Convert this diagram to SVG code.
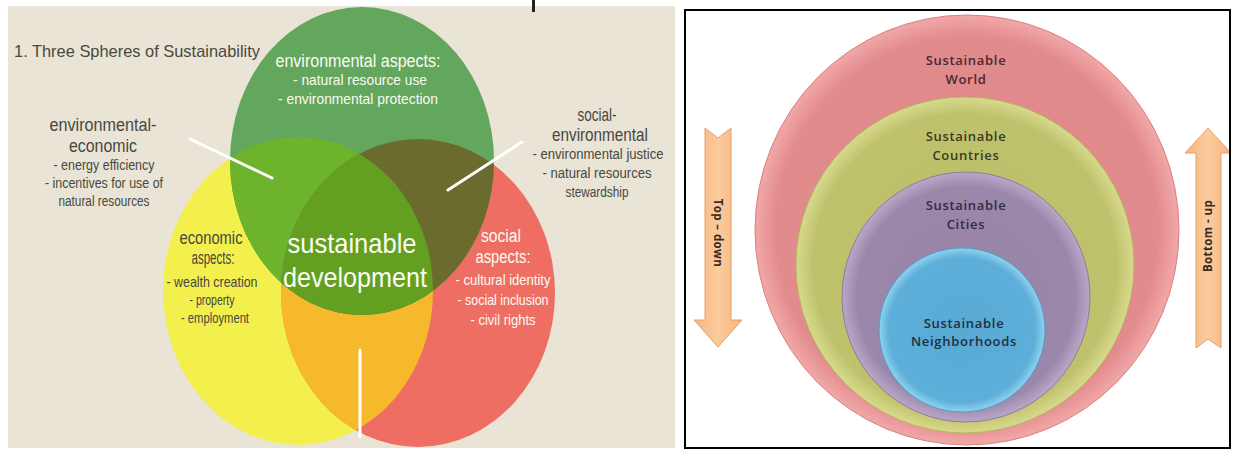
<svg xmlns="http://www.w3.org/2000/svg" width="1236" height="451" viewBox="0 0 1236 451">
  <style>
    .dark { fill: #48483f; font-family: "Liberation Sans", "Open Sans", sans-serif; }
    .light { fill: #fbfbf2; font-family: "Liberation Sans", "Open Sans", sans-serif; }
    .lvl { font-family: "Open Sans", "Liberation Sans", sans-serif; font-weight: 600; font-size: 13px; letter-spacing: 0.7px; text-anchor: middle; }
    .arrowTxt { font-family: "Open Sans", "Liberation Sans", sans-serif; font-weight: 700; font-size: 11.5px; fill: #3a2a1c; text-anchor: middle; letter-spacing: 0.4px; }
    .ptr { stroke: #ffffff; stroke-width: 3; stroke-linecap: round; fill: none; }
    .arrow { fill: url(#arrowFill); stroke: #e2a06c; stroke-width: 1; }
  </style>
  <defs>
    <ellipse id="eG" cx="362" cy="161" rx="132" ry="154"/>
    <ellipse id="eY" cx="298" cy="291" rx="135" ry="154"/>
    <ellipse id="eR" cx="418" cy="293" rx="137" ry="154"/>
    <clipPath id="cG"><use href="#eG"/></clipPath>
    <clipPath id="cY"><use href="#eY"/></clipPath>

    <radialGradient id="gPink" cx="0.5" cy="0.5" r="0.5">
      <stop offset="0" stop-color="#df8688"/>
      <stop offset="0.9" stop-color="#e28b8d"/>
      <stop offset="1" stop-color="#f2a8a8"/>
    </radialGradient>
    <radialGradient id="gOlive" cx="0.5" cy="0.5" r="0.5">
      <stop offset="0" stop-color="#bcbf69"/>
      <stop offset="0.9" stop-color="#bfc26d"/>
      <stop offset="1" stop-color="#d8da8c"/>
    </radialGradient>
    <radialGradient id="gPurple" cx="0.5" cy="0.5" r="0.5">
      <stop offset="0" stop-color="#9683a6"/>
      <stop offset="0.88" stop-color="#9a87aa"/>
      <stop offset="1" stop-color="#baa7c8"/>
    </radialGradient>
    <radialGradient id="gBlue" cx="0.5" cy="0.5" r="0.5">
      <stop offset="0" stop-color="#58a9d4"/>
      <stop offset="0.88" stop-color="#5daed9"/>
      <stop offset="1" stop-color="#8fd2ef"/>
    </radialGradient>
    <linearGradient id="arrowFill" x1="0" y1="0" x2="1" y2="0">
      <stop offset="0" stop-color="#f5b57f"/>
      <stop offset="0.5" stop-color="#fbcb9d"/>
      <stop offset="1" stop-color="#f5b57f"/>
    </linearGradient>
  </defs>

  <rect width="1236" height="451" fill="#ffffff"/>

  <!-- Three spheres of sustainability -->
  <g id="spheres-panel">
    <rect x="8" y="6" width="667" height="442" fill="#e9e4d5"/>
    <rect x="532" y="0" width="3" height="12" fill="#222222"/>
    <text class="dark" x="14" y="57" font-size="17" textLength="246" lengthAdjust="spacingAndGlyphs">1. Three Spheres of Sustainability</text>

    <g id="sphere-economic"><use href="#eY" fill="#f3ef4d"/></g>
    <g id="sphere-social"><use href="#eR" fill="#ef6e63"/></g>
    <g id="sphere-environmental"><use href="#eG" fill="#63a65d"/></g>

    <!-- overlaps -->
    <g id="overlap-economic-social" clip-path="url(#cY)"><use href="#eR" fill="#f6b92c"/></g>
    <g id="overlap-env-economic" clip-path="url(#cG)"><use href="#eY" fill="#6db42c"/></g>
    <g id="overlap-social-env" clip-path="url(#cG)"><use href="#eR" fill="#6b6b2e"/></g>
    <g id="overlap-all" clip-path="url(#cG)"><g clip-path="url(#cY)"><use href="#eR" fill="#63a022"/></g></g>

    <g id="connectors">
      <line class="ptr" x1="190" y1="139" x2="272" y2="178"/>
      <line class="ptr" x1="522" y1="142" x2="448" y2="190"/>
      <line class="ptr" x1="360" y1="350" x2="360" y2="437"/>
    </g>

    <g id="label-env-aspects" text-anchor="middle">
      <text class="light" x="358" y="67" font-size="18" textLength="165" lengthAdjust="spacingAndGlyphs">environmental aspects:</text>
      <text class="light" x="360" y="85" font-size="15" textLength="134" lengthAdjust="spacingAndGlyphs">- natural resource use</text>
      <text class="light" x="358" y="103.5" font-size="15" textLength="160" lengthAdjust="spacingAndGlyphs">- environmental protection</text>
    </g>

    <g id="label-env-economic" text-anchor="middle">
      <text class="dark" x="103" y="131" font-size="18.8" textLength="107" lengthAdjust="spacingAndGlyphs">environmental-</text>
      <text class="dark" x="103" y="152" font-size="18.8" textLength="68" lengthAdjust="spacingAndGlyphs">economic</text>
      <text class="dark" x="104" y="170" font-size="15.5" textLength="101" lengthAdjust="spacingAndGlyphs">- energy efficiency</text>
      <text class="dark" x="104" y="188" font-size="15.5" textLength="118" lengthAdjust="spacingAndGlyphs">- incentives for use of</text>
      <text class="dark" x="104" y="206" font-size="15.5" textLength="91" lengthAdjust="spacingAndGlyphs">natural resources</text>
    </g>

    <g id="label-social-env" text-anchor="middle">
      <text class="dark" x="597" y="121" font-size="17.8" textLength="39" lengthAdjust="spacingAndGlyphs">social-</text>
      <text class="dark" x="600" y="141" font-size="17.8" textLength="96" lengthAdjust="spacingAndGlyphs">environmental</text>
      <text class="dark" x="598" y="159" font-size="15.5" textLength="131" lengthAdjust="spacingAndGlyphs">- environmental justice</text>
      <text class="dark" x="597" y="178" font-size="15.5" textLength="109" lengthAdjust="spacingAndGlyphs">- natural resources</text>
      <text class="dark" x="597" y="197" font-size="15.5" textLength="63" lengthAdjust="spacingAndGlyphs">stewardship</text>
    </g>

    <g id="label-economic" text-anchor="middle">
      <text class="dark" x="211" y="244" font-size="17.5" textLength="63" lengthAdjust="spacingAndGlyphs">economic</text>
      <text class="dark" x="213" y="264" font-size="17.5" textLength="43" lengthAdjust="spacingAndGlyphs">aspects:</text>
      <text class="dark" x="212" y="287" font-size="15" textLength="91" lengthAdjust="spacingAndGlyphs">- wealth creation</text>
      <text class="dark" x="212" y="305" font-size="15" textLength="45" lengthAdjust="spacingAndGlyphs">- property</text>
      <text class="dark" x="215" y="323" font-size="15" textLength="68" lengthAdjust="spacingAndGlyphs">- employment</text>
    </g>

    <g id="label-core" text-anchor="middle">
      <text class="light" x="352" y="253" font-size="28" textLength="129" lengthAdjust="spacingAndGlyphs">sustainable</text>
      <text class="light" x="355" y="287" font-size="28" textLength="144" lengthAdjust="spacingAndGlyphs">development</text>
    </g>

    <g id="label-social" text-anchor="middle">
      <text class="light" x="501" y="242" font-size="18" textLength="40" lengthAdjust="spacingAndGlyphs">social</text>
      <text class="light" x="503" y="263" font-size="18" textLength="55" lengthAdjust="spacingAndGlyphs">aspects:</text>
      <text class="light" x="503" y="285" font-size="15" textLength="95" lengthAdjust="spacingAndGlyphs">- cultural identity</text>
      <text class="light" x="503" y="305" font-size="15" textLength="91" lengthAdjust="spacingAndGlyphs">- social inclusion</text>
      <text class="light" x="503" y="325" font-size="15" textLength="65" lengthAdjust="spacingAndGlyphs">- civil rights</text>
    </g>
  </g>

  <!-- Nested scales of sustainability -->
  <g id="scales-panel">
    <g id="level-world">
      <ellipse cx="967" cy="230" rx="212" ry="215" fill="url(#gPink)" stroke="#d98080" stroke-width="1"/>
      <text class="lvl" fill="#4a2830"><tspan x="966" y="65">Sustainable</tspan><tspan x="966" y="84">World</tspan></text>
    </g>
    <g id="level-countries">
      <ellipse cx="965" cy="265" rx="169" ry="168" fill="url(#gOlive)" stroke="#b4b763" stroke-width="1"/>
      <text class="lvl" fill="#3a3a20"><tspan x="966" y="141">Sustainable</tspan><tspan x="966" y="160">Countries</tspan></text>
    </g>
    <g id="level-cities">
      <ellipse cx="966" cy="297" rx="124" ry="125" fill="url(#gPurple)" stroke="#8d7b9e" stroke-width="1"/>
      <text class="lvl" fill="#352a42"><tspan x="966" y="210">Sustainable</tspan><tspan x="966" y="229">Cities</tspan></text>
    </g>
    <g id="level-neighborhoods">
      <ellipse cx="962" cy="330" rx="83" ry="82" fill="url(#gBlue)" stroke="#4f9dc6" stroke-width="1"/>
      <text class="lvl" fill="#1f3040"><tspan x="964" y="328">Sustainable</tspan><tspan x="964" y="346">Neighborhoods</tspan></text>
    </g>

    <g id="arrow-top-down">
      <path class="arrow" d="M705,128 L718,138 L731,128 L731,320 L742,320 L718,347 L694,320 L705,320 Z"/>
      <text class="arrowTxt" transform="translate(714,233) rotate(90)">Top – down</text>
    </g>
    <g id="arrow-bottom-up">
      <path class="arrow" d="M1208,128 L1231,153 L1221,153 L1221,348 L1208,339 L1196,348 L1196,153 L1185,153 Z"/>
      <text class="arrowTxt" transform="translate(1212,236) rotate(-90)">Bottom - up</text>
    </g>

    <rect x="685" y="10" width="545" height="438" fill="none" stroke="#000000" stroke-width="2"/>
  </g>
</svg>
